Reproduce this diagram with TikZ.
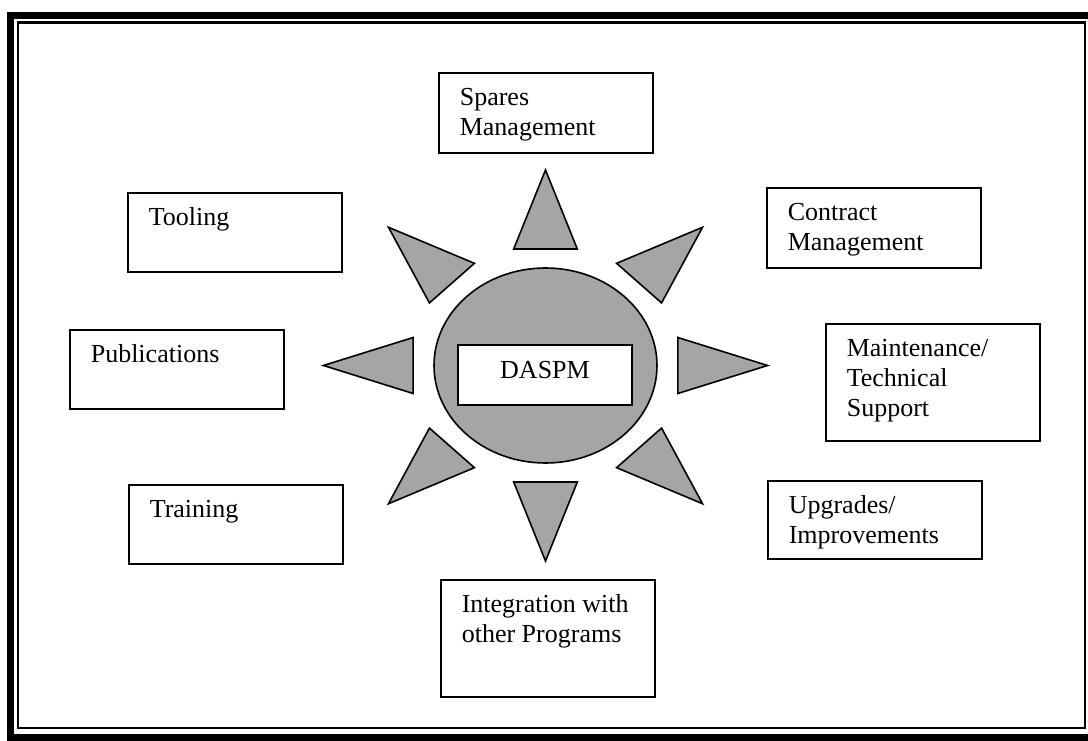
\documentclass[tikz,border=0pt]{standalone}
\usepackage{fontspec}
\setmainfont{Liberation Serif}
\usepackage{tikz}
\usetikzlibrary{positioning}
\usetikzlibrary{shapes,arrows,positioning,fit}
\definecolor{dotgray}{RGB}{165,165,165}
\tikzstyle{block} = [rectangle, draw, line width=1.6pt, fill=white, anchor=north west,
inner xsep=21pt, inner ysep=12pt, minimum width=214pt, font=\fontsize{26}{30}\selectfont]
\tikzstyle{core} = [rectangle, draw, line width=1.6pt, fill=white, minimum width=174pt,
minimum height=60pt, text depth=10pt, font=\fontsize{26}{30}\selectfont]
\tikzstyle{sun} = [ellipse, draw, line width=1.6pt, fill=dotgray, minimum width=223pt,
minimum height=195pt, inner sep=0pt]
\tikzstyle{spike} = [draw, line width=1.6pt, fill=dotgray]
\newcommand{\boxtext}[2]{\parbox[t][#1][t]{172pt}{\raggedright\strut #2}}

\begin{document}
\begin{tikzpicture}[x=1pt, y=-1pt]
  \useasboundingbox (0,0) rectangle (1088,741);
  % frame
  \draw [line width=7pt] (10.5,15.5) rectangle (1098,737.5);
  \draw [line width=2.5pt] (18,22.5) rectangle (1085,728);

  % Place nodes
  \node [sun] (hub) at (545.5,365.5) {};
  \node [core] (daspm) at (545,375) {DASPM};
  \node [block] (sm) at (438,72) {\boxtext{56pt}{Spares\\ Management}};
  \node [block] (cm) at (766,187) {\boxtext{56pt}{Contract\\ Management}};
  \node [block] (mts) at (825,323) {\boxtext{93pt}{Maintenance/\\ Technical\\ Support}};
  \node [block] (ui) at (767,480) {\boxtext{54pt}{Upgrades/\\ Improvements}};
  \node [block] (iop) at (440,579) {\boxtext{93pt}{Integration with\\ other Programs}};
  \node [block] (tl) at (127,192) {\boxtext{55pt}{Tooling}};
  \node [block] (pub) at (69,329) {\boxtext{55pt}{Publications}};
  \node [block] (tr) at (128,484) {\boxtext{55pt}{Training}};

  % spikes
  \foreach \a in {0,45,...,315}
    \draw [spike, shift={(hub.center)}, xscale=1.136, rotate=\a]
      (116.5,-28) -- (195.5,0) -- (116.5,28) -- cycle;
\end{tikzpicture}
\end{document}
